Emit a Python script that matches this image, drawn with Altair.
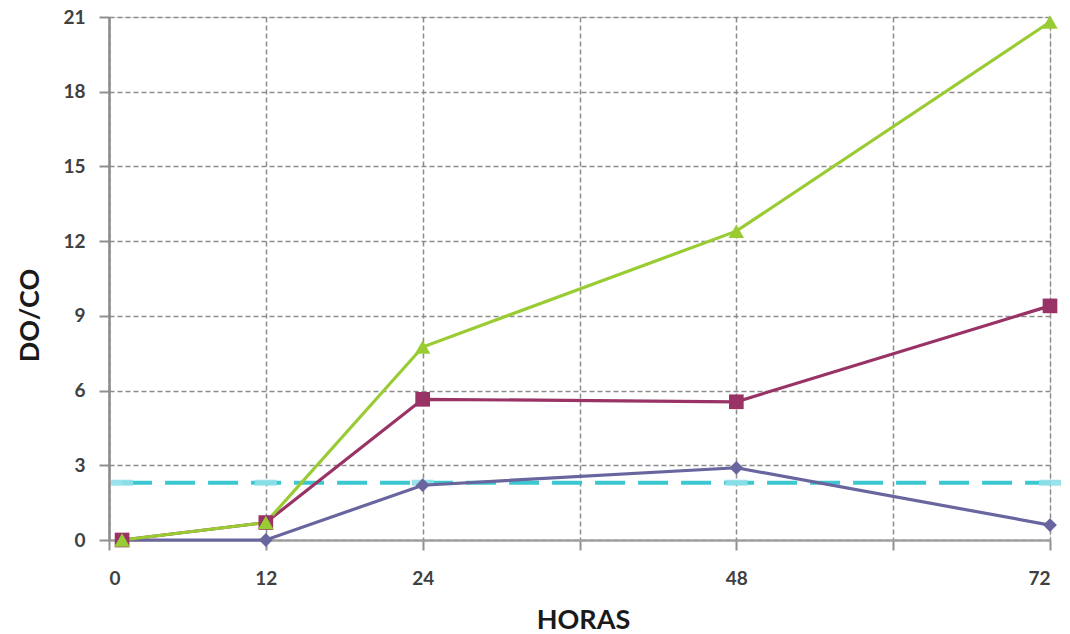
import altair as alt
import pandas as pd

# Sampling times (hours) and DO/CO ratios per series
horas = [1, 12, 24, 48, 72]
serie_triangulo = [0.0, 0.7, 7.75, 12.4, 20.8]
serie_cuadrado = [0.0, 0.7, 5.65, 5.55, 9.4]
serie_rombo = [0.0, 0.0, 2.2, 2.9, 0.6]
referencia = [2.3, 2.3, 2.3, 2.3, 2.3]

series = ["rombo", "cuadrado", "triangulo"]
valores = {"rombo": serie_rombo, "cuadrado": serie_cuadrado, "triangulo": serie_triangulo}
colores = ["#68659F", "#993366", "#99CC33"]
formas = ["diamond", "square", "triangle-up"]
tamanos = [190, 240, 320]

rows = []
for orden, s in enumerate(series):
    for h, v in zip(horas, valores[s]):
        rows.append({"serie": s, "orden": orden, "hora": h, "valor": v})
df = pd.DataFrame(rows)
df_ref = pd.DataFrame({"hora": horas, "valor": referencia})

FONT = "Lato"

x_scale = alt.Scale(domain=[0, 72], nice=False, zero=True)
y_scale = alt.Scale(domain=[0, 21], nice=False)

x_axis = alt.Axis(
    title="HORAS",
    values=[0, 12, 24, 36, 48, 60, 72],
    labelExpr="datum.value == 36 || datum.value == 60 ? '' : datum.label",
    grid=True, gridDash=[5, 3], gridColor="#8C8C8C", gridWidth=1.5,
    domainColor="#A0A0A0", domainWidth=2.5,
    tickColor="#909090", tickWidth=2, tickSize=10,
    labelFont=FONT, labelFontSize=19, labelFontWeight="bold", labelColor="#404040",
    labelPadding=19,
    titleFont=FONT, titleFontSize=27, titleFontWeight="bold", titleColor="#1a1a1a",
    titleX=474, titleY=80, titleBaseline="middle", titleAlign="center",
)
y_axis = alt.Axis(
    title="DO/CO",
    values=[0, 3, 6, 9, 12, 15, 18, 21],
    grid=True, gridDash=[5, 3], gridColor="#8C8C8C", gridWidth=1.5,
    domainColor="#8A8A8A", domainWidth=2.5,
    tickColor="#909090", tickWidth=2, tickSize=10,
    labelFont=FONT, labelFontSize=19, labelFontWeight="bold", labelColor="#404040",
    labelPadding=14,
    titleFont=FONT, titleFontSize=27, titleFontWeight="bold", titleColor="#1a1a1a",
    titleAngle=-90, titleX=-79, titleY=298, titleBaseline="middle", titleAlign="center",
)

base = alt.Chart(df).encode(
    x=alt.X("hora:Q", scale=x_scale, axis=x_axis),
    y=alt.Y("valor:Q", scale=y_scale, axis=y_axis),
    color=alt.Color("serie:N", scale=alt.Scale(domain=series, range=colores), legend=None),
    order=alt.Order("orden:Q"),
)

lineas = base.mark_line(strokeWidth=3.2)
puntos = base.mark_point(filled=True, opacity=1).encode(
    shape=alt.Shape("serie:N", scale=alt.Scale(domain=series, range=formas), legend=None),
    size=alt.Size("serie:N", scale=alt.Scale(domain=series, range=tamanos), legend=None),
)

# Reference level: dashed cyan line with light dash markers at each sample time
ref_base = alt.Chart(df_ref).encode(
    x=alt.X("hora:Q", scale=x_scale), y=alt.Y("valor:Q", scale=y_scale)
)
ref_linea = ref_base.mark_line(color="#3CC8D0", strokeWidth=4, strokeDash=[30, 13])
ref_marcas = ref_base.mark_tick(
    orient="horizontal", color="#8FE0E8", size=22, thickness=6, opacity=0.9
)

chart = alt.layer(ref_linea, ref_marcas, lineas, puntos).properties(
    width=941, height=523,
    padding={"left": 109, "top": 17, "right": 20, "bottom": 94},
    autosize=alt.AutoSizeParams(type="none"),
).configure_view(
    stroke="#A8A8A8", strokeWidth=2.5
).configure(background="white")

chart.save("out.html", embed_options={"renderer": "svg", "actions": False})
